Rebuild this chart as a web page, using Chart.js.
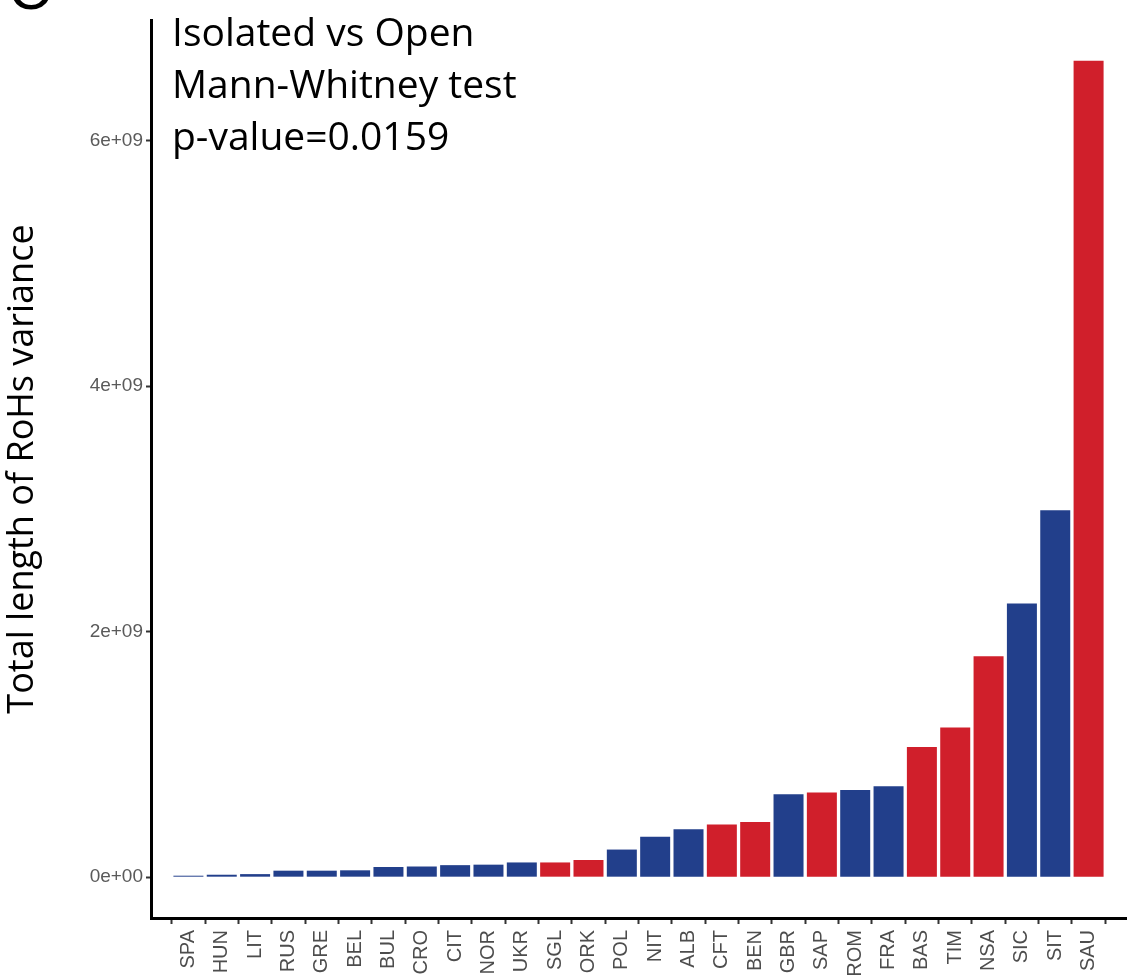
<!DOCTYPE html>
<html>
<head>
<meta charset="utf-8">
<title>Total length of RoHs variance</title>
<script src="https://cdn.jsdelivr.net/npm/chart.js@4.4.1/dist/chart.umd.min.js"></script>
<style>
  html, body { margin: 0; padding: 0; background: #ffffff; }
  canvas { display: block; }
</style>
</head>
<body>
<canvas id="chart" width="1128" height="980"></canvas>
<script>
// Populations, ordered by increasing variance of total RoH length
const populations = ['SPA','HUN','LIT','RUS','GRE','BEL','BUL','CRO','CIT','NOR','UKR','SGL','ORK',
  'POL','NIT','ALB','CFT','BEN','GBR','SAP','ROM','FRA','BAS','TIM','NSA','SIC','SIT','SAU'];

// Population type: isolated (red) or open (blue)
const groups = ['Open','Open','Open','Open','Open','Open','Open','Open','Open','Open','Open','Isolated','Isolated',
  'Open','Open','Open','Isolated','Isolated','Open','Isolated','Open','Open','Isolated','Isolated','Isolated','Open','Open','Isolated'];

// Variance of total RoH length (bp^2)
const rohVariance = [0.012e9, 0.020e9, 0.025e9, 0.053e9, 0.053e9, 0.056e9, 0.083e9, 0.087e9, 0.098e9, 0.102e9, 0.120e9, 0.120e9, 0.140e9,
  0.225e9, 0.330e9, 0.390e9, 0.430e9, 0.450e9, 0.675e9, 0.690e9, 0.710e9, 0.740e9, 1.060e9, 1.220e9, 1.800e9, 2.230e9, 2.990e9, 6.650e9];

const yTickValues = [0, 2e9, 4e9, 6e9];
const yTickLabels = ['0e+00', '2e+09', '4e+09', '6e+09'];

const testLines = ['Isolated vs Open', 'Mann-Whitney test', 'p-value=0.0159'];
const panelLetter = 'C';

const groupColors = { Isolated: '#d01f2b', Open: '#223f8b' };

// ggplot-style expansion: 5% of the range on the value axis, 0.6 bar on each side of the categories
const yMaxData = Math.max(...rohVariance);
const yMin = -0.05 * yMaxData;
const yMax = 1.05 * yMaxData;

const overlayText = {
  id: 'overlayText',
  afterDraw(chart) {
    const ctx = chart.ctx;
    ctx.save();
    ctx.fillStyle = '#000000';
    ctx.textAlign = 'left';
    ctx.textBaseline = 'alphabetic';
    ctx.font = '39px "Open Sans"';
    testLines.forEach((line, i) => {
      ctx.fillText(line, 172, 46 + i * 52);
    });
    // panel letter, mostly above the top edge of the figure
    ctx.font = '60px "Liberation Sans"';
    ctx.fillText(panelLetter, 8, 9);
    ctx.restore();
  }
};

new Chart(document.getElementById('chart'), {
  type: 'bar',
  data: {
    datasets: [{
      data: rohVariance.map((v, i) => ({ x: i, y: v })),
      backgroundColor: groups.map(g => groupColors[g]),
      borderWidth: 0,
      categoryPercentage: 1.0,
      barPercentage: 0.9
    }]
  },
  options: {
    responsive: false,
    devicePixelRatio: 1,
    animation: false,
    layout: { padding: { top: 20, right: 2, left: 0, bottom: 0 } },
    plugins: {
      legend: { display: false },
      tooltip: { enabled: false },
      title: { display: false }
    },
    scales: {
      x: {
        type: 'linear',
        min: -0.6,
        max: populations.length - 1 + 0.6,
        afterBuildTicks: (scale) => { scale.ticks = populations.map((_, i) => ({ value: i })); },
        afterFit: (scale) => { scale.height = 62; },
        grid: {
          display: true,
          drawOnChartArea: false,
          drawTicks: true,
          tickLength: 6,
          tickWidth: 2,
          tickColor: '#333333'
        },
        border: { display: true, color: '#000000', width: 3 },
        ticks: {
          autoSkip: false,
          minRotation: 90,
          maxRotation: 90,
          padding: 6,
          color: '#4d4d4d',
          font: { family: '"Liberation Sans", Arial, sans-serif', size: 20 },
          callback: (v) => populations[v]
        }
      },
      y: {
        type: 'linear',
        min: yMin,
        max: yMax,
        afterBuildTicks: (scale) => { scale.ticks = yTickValues.map(v => ({ value: v })); },
        afterFit: (scale) => { scale.width = 151; },
        grid: {
          display: true,
          drawOnChartArea: false,
          drawTicks: true,
          tickLength: 5,
          tickWidth: 2,
          tickColor: '#333333'
        },
        border: { display: true, color: '#000000', width: 3 },
        ticks: {
          padding: 3,
          color: '#5a5a5a',
          font: { family: '"Liberation Sans", Arial, sans-serif', size: 19 },
          callback: (v) => yTickLabels[yTickValues.indexOf(v)]
        },
        title: {
          display: true,
          text: 'Total length of RoHs variance',
          color: '#000000',
          font: { family: '"Open Sans", sans-serif', size: 36 },
          padding: { top: 1, bottom: 0 }
        }
      }
    }
  },
  plugins: [overlayText]
});
</script>
</body>
</html>
